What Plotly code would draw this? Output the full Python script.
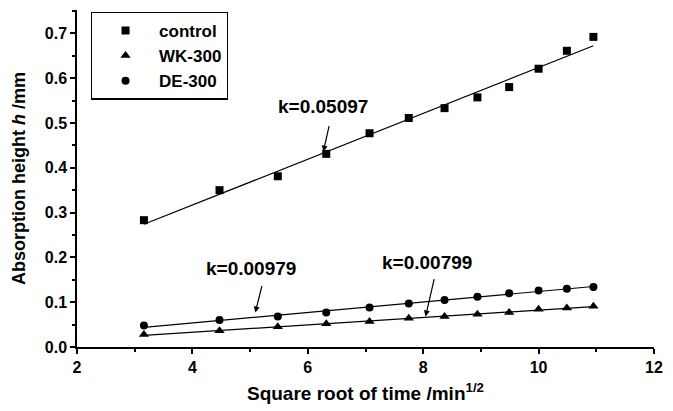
import numpy as np
import plotly.graph_objects as go

# data
sqrt_time = [3.16, 4.47, 5.48, 6.32, 7.07, 7.75, 8.37, 8.94, 9.49, 10.0, 10.49, 10.95]
control = [0.283, 0.350, 0.381, 0.431, 0.477, 0.511, 0.533, 0.557, 0.580, 0.621, 0.661, 0.692]
wk300 = [0.028, 0.036, 0.045, 0.052, 0.057, 0.064, 0.068, 0.073, 0.077, 0.084, 0.087, 0.091]
de300 = [0.048, 0.060, 0.068, 0.077, 0.088, 0.097, 0.105, 0.112, 0.120, 0.126, 0.130, 0.134]
x_ticks = [2, 4, 6, 8, 10, 12]
y_ticks = [0.0, 0.1, 0.2, 0.3, 0.4, 0.5, 0.6, 0.7]

FONT = "Liberation Sans, Arial, sans-serif"
x = np.array(sqrt_time)

fig = go.Figure()
series = [("control", control, "square", 8), ("WK-300", wk300, "triangle-up", 9), ("DE-300", de300, "circle", 8)]
for name, ys, sym, sz in series:
    fig.add_trace(go.Scatter(x=sqrt_time, y=ys, mode="markers", name=name,
                             marker=dict(symbol=sym, size=sz, color="black")))
    k, b = np.polyfit(x, np.array(ys), 1)
    xf = [x.min(), x.max()]
    fig.add_trace(go.Scatter(x=xf, y=[k * v + b for v in xf], mode="lines", showlegend=False,
                             line=dict(color="black", width=1.2)))

axis_common = dict(showline=True, linecolor="black", linewidth=1.5, ticks="outside", ticklen=5,
                   tickwidth=1.5, tickcolor="black", showgrid=False, zeroline=False, mirror=False,
                   tickfont=dict(family=FONT, size=16, color="black", weight=700))
fig.update_xaxes(range=[2, 12], tickvals=x_ticks, ticktext=["<b>%d</b>" % v for v in x_ticks],
                 minor=dict(dtick=1, ticks="outside", ticklen=3, tickcolor="black", tickwidth=1.5),
                 title=dict(text="<b>Square root of time /min<sup>1/2</sup></b>",
                            font=dict(family=FONT, size=19, color="black"), standoff=12),
                 **axis_common)
fig.update_yaxes(range=[0, 0.752], tickvals=y_ticks, ticktext=["<b>%.1f</b>" % v for v in y_ticks],
                 minor=dict(dtick=0.05, ticks="outside", ticklen=3, tickcolor="black", tickwidth=1.5),
                 title=dict(text="<b>Absorption height <i>h</i> /mm</b>",
                            font=dict(family=FONT, size=18, color="black"), standoff=14),
                 **axis_common)

fig.update_layout(width=673, height=411, margin=dict(l=77, r=10, t=10, b=63),
                  plot_bgcolor="white", paper_bgcolor="white",
                  font=dict(family=FONT, color="black"),
                  legend=dict(x=0.024, y=0.995, xanchor="left", yanchor="top",
                              bordercolor="black", borderwidth=1.2, bgcolor="white",
                              font=dict(family=FONT, size=17, color="black", weight="bold"),
                              itemwidth=57, tracegroupgap=0))

def label(text, tx, ty, px, py, ax, ay):
    fig.add_annotation(x=tx, y=ty, text="<b>%s</b>" % text, showarrow=False,
                       font=dict(family=FONT, size=19, color="black"))
    fig.add_annotation(x=px, y=py, ax=ax, ay=ay, text="", showarrow=True, arrowhead=2,
                       arrowsize=1, arrowwidth=1.2, arrowcolor="black")

label("k=0.05097", 6.27, 0.536, 6.27, 0.436, 6, -27)
label("k=0.00979", 5.02, 0.175, 5.09, 0.077, 7, -28)
label("k=0.00799", 8.06, 0.189, 8.04, 0.068, 9, -39)

fig.write_html("out.html", config={"displayModeBar": False},
               post_script="document.body.style.margin='0';document.body.style.overflow='hidden';")
